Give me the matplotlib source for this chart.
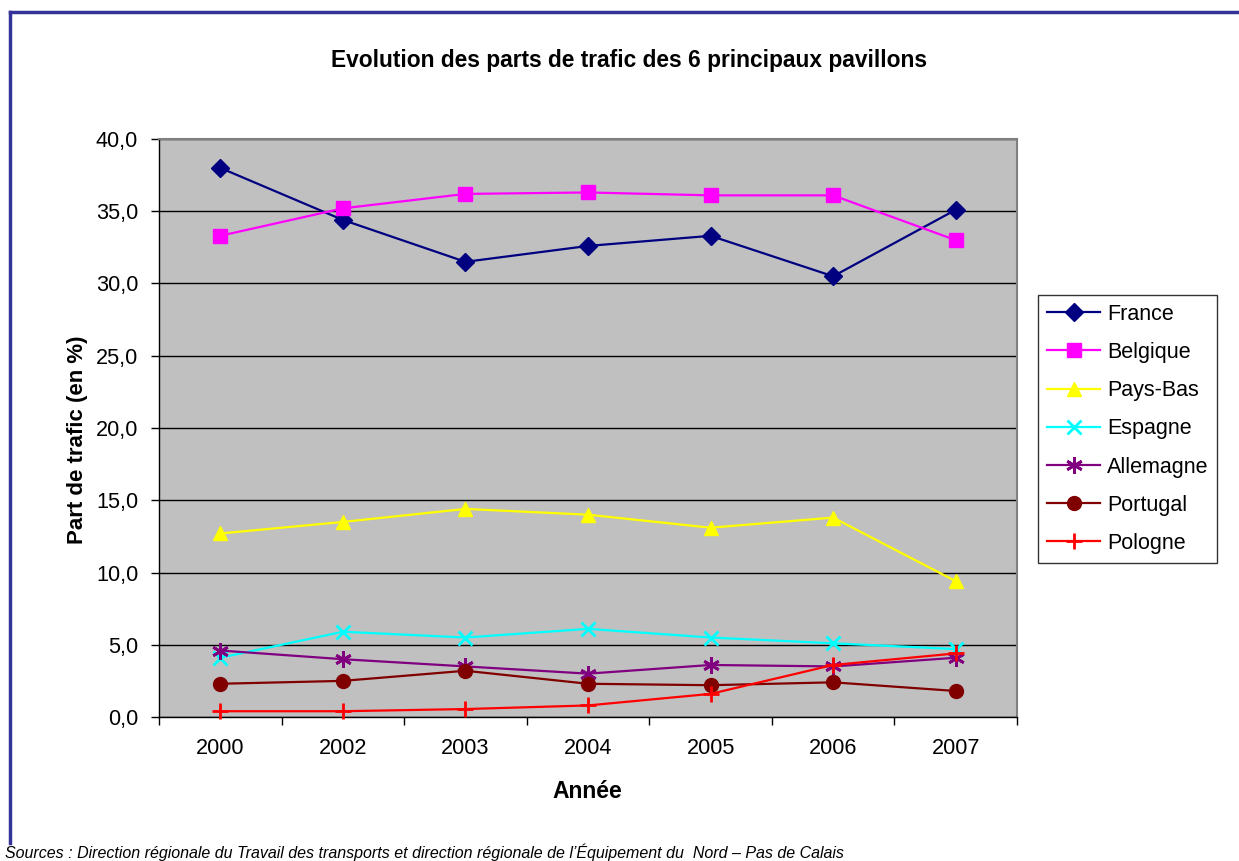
import matplotlib
matplotlib.use('Agg')
import matplotlib.pyplot as plt
from matplotlib.lines import Line2D
import numpy as np

plt.rcParams['font.family'] = ['Liberation Sans', 'DejaVu Sans']

years = ['2000', '2002', '2003', '2004', '2005', '2006', '2007']

france = [38.0, 34.4, 31.5, 32.6, 33.3, 30.5, 35.1]
belgique = [33.3, 35.2, 36.2, 36.3, 36.1, 36.1, 33.0]
pays_bas = [12.7, 13.5, 14.4, 14.0, 13.1, 13.8, 9.4]
espagne = [4.1, 5.9, 5.5, 6.1, 5.5, 5.1, 4.7]
allemagne = [4.6, 4.0, 3.5, 3.0, 3.6, 3.5, 4.1]
portugal = [2.3, 2.5, 3.2, 2.3, 2.2, 2.4, 1.8]
pologne = [0.4, 0.4, 0.55, 0.8, 1.6, 3.6, 4.4]

series = [
    ('France', france, '#000080', 'D', 9),
    ('Belgique', belgique, '#FF00FF', 's', 10),
    ('Pays-Bas', pays_bas, '#FFFF00', '^', 10),
    ('Espagne', espagne, '#00FFFF', 'x', 10),
    ('Allemagne', allemagne, '#800080', (6, 2, 0), 12),
    ('Portugal', portugal, '#800000', 'o', 10),
    ('Pologne', pologne, '#FF0000', '+', 12),
]

W, H = 1239, 861
fig = plt.figure(figsize=(W / 100, H / 100), dpi=100)

# plot area in pixel coords
x0, x1, ytop, ybot = 159, 1017, 139, 717
ax = fig.add_axes([x0 / W, 1 - ybot / H, (x1 - x0) / W, (ybot - ytop) / H])
ax.set_facecolor('#C0C0C0')

x = np.arange(len(years))
for name, vals, col, mk, ms in series:
    ax.plot(x, vals, color=col, lw=1.6, marker=mk, markersize=ms,
            markeredgewidth=2 if mk in ('x', '+', (6, 2, 0)) else 1,
            markeredgecolor=col, markerfacecolor=col, label=name,
            clip_on=False, zorder=3)

ax.set_xlim(-0.5, 6.5)
ax.set_ylim(0, 40)
ax.set_yticks(np.arange(0, 41, 5))
ax.set_yticklabels(['{:.1f}'.format(v).replace('.', ',') for v in np.arange(0, 41, 5)])
ax.yaxis.grid(True, color='black', lw=1)
ax.set_axisbelow(True)

ax.set_xticks(x)
ax.set_xticklabels(years)
ax.set_xticks(np.arange(-0.5, 7, 1), minor=True)
ax.tick_params(axis='x', which='major', length=0, pad=15, labelsize=15.6)
ax.tick_params(axis='x', which='minor', length=6, direction='out', width=1)
ax.tick_params(axis='y', length=6, width=1, direction='out', pad=9, labelsize=15.6)

for s in ('top', 'right'):
    ax.spines[s].set_color('#808080')
    ax.spines[s].set_linewidth(1.5)
for s in ('left', 'bottom'):
    ax.spines[s].set_color('black')
    ax.spines[s].set_linewidth(1)

fig.text(629 / W, 1 - 61 / H, 'Evolution des parts de trafic des 6 principaux pavillons',
         ha='center', va='center', fontsize=16.4, fontweight='bold')
fig.text(77 / W, 1 - 440 / H, 'Part de trafic (en %)', rotation=90,
         ha='center', va='center', fontsize=16, fontweight='bold')
fig.text(587 / W, 1 - 791 / H, 'Année', ha='center', va='center',
         fontsize=16.5, fontweight='bold')
fig.text(5 / W, 1 - 852 / H,
         'Sources : Direction régionale du Travail des transports et direction régionale de l\u2019Équipement du  Nord \u2013 Pas de Calais',
         ha='left', va='center', fontsize=11.5, style='italic')

leg = fig.legend(loc='upper left', bbox_to_anchor=(1038 / W, 1 - 295 / H),
                 fontsize=15.5, frameon=True, fancybox=False, edgecolor='black',
                 handlelength=2.5, labelspacing=0.80, borderpad=0.4,
                 handletextpad=0.3, borderaxespad=0)
leg.get_frame().set_linewidth(1)

# outer border of chart
fig.add_artist(Line2D([10 / W, 1], [1 - 12 / H, 1 - 12 / H], color='#333399', lw=2.5))
fig.add_artist(Line2D([10 / W, 10 / W], [1 - 12 / H, 1 - 843 / H], color='#333399', lw=2.5))

fig.savefig('out.png', dpi=100)
